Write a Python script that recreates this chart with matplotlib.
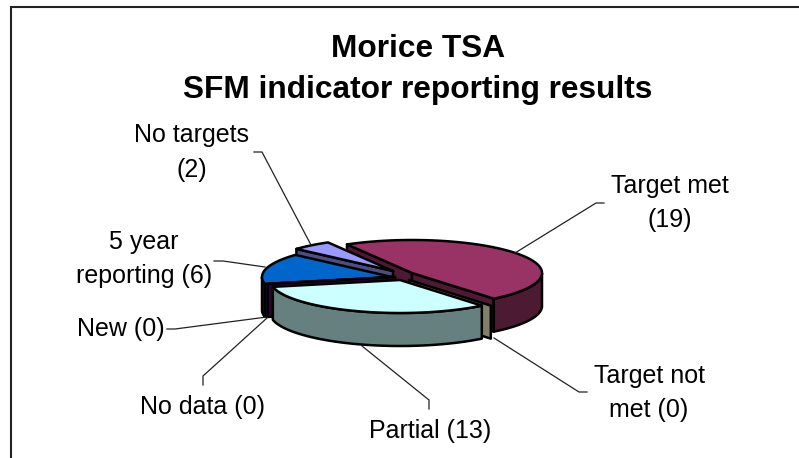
import numpy as np
import matplotlib
matplotlib.use('Agg')
import matplotlib.pyplot as plt
from matplotlib.patches import Polygon

plt.rcParams['font.family'] = ['Liberation Sans', 'DejaVu Sans']

# data, clockwise from the back of the pie
categories = ['Target met', 'Target not met', 'Partial', 'No data', 'New', '5 year reporting', 'No targets']
values = [19, 0, 13, 0, 0, 6, 2]
labels = ['Target met\n(19)', 'Target not\nmet (0)', 'Partial (13)', 'No data (0)', 'New (0)',
          '5 year\nreporting (6)', 'No targets\n(2)']
title_lines = ['Morice TSA', 'SFM indicator reporting results']

# styles
top_colors = ['#993366', '#FFFFCC', '#CCFFFF', '#660066', '#FF8080', '#0066CC', '#9999FF']
side_colors = ['#4D1A33', '#808066', '#668080', '#330033', '#804040', '#003366', '#4D4D80']
centers = [(412, 273), (409, 280), (400, 280), (395, 277), (395, 277), (392, 277), (393, 271)]
draw_order = [0, 6, 5, 4, 3, 1, 2]
label_pos = [(670, 193), (649, 383), (430, 438), (203, 414), (121, 336), (144, 249), (192, 142)]
leaders = [[(604, 203), (596, 203), (515, 253)],
           [(587, 392), (579, 392), (494, 338)],
           [(429, 409), (429, 400), (362, 346)],
           [(203, 385), (203, 376), (267, 318)],
           [(167, 329), (175, 329), (267, 317)],
           [(214, 261), (223, 261), (265, 267)],
           [(254, 152), (262, 152), (311, 245)]]
RX, RY, DEPTH = 130, 33, 33
START_ANGLE = 120
LW = 1.8


def rim(cx, cy, angles):
    t = np.radians(angles)
    return np.column_stack([cx + RX * np.cos(t), cy - RY * np.sin(t)])


def shape(ax, pts, color):
    ax.add_patch(Polygon(pts, closed=True, facecolor=color, edgecolor='black', linewidth=LW, joinstyle='round'))


def face(ax, cx, cy, angle, color):
    p = rim(cx, cy, [angle])[0]
    shape(ax, [(cx, cy), p, (p[0], p[1] + DEPTH), (cx, cy + DEPTH)], color)


fig = plt.figure(figsize=(7.99, 4.58), dpi=100)
ax = fig.add_axes([0, 0, 1, 1])
ax.set_xlim(0, 799)
ax.set_ylim(458, 0)
ax.axis('off')

# chart frame, only the top and left sides are in the picture
ax.plot([11, 11, 799], [458, 7, 7], color='#222222', linewidth=1.5, solid_joinstyle='miter')

# slice angles from the values
sweep = 360 * np.array(values) / sum(values)
ends = START_ANGLE - np.cumsum(sweep)
starts = ends + sweep

for i in draw_order:
    cx, cy = centers[i]
    a0, a1 = starts[i], ends[i]
    # cut faces turned to the viewer
    if np.cos(np.radians(a0)) < 0:
        face(ax, cx, cy, a0, side_colors[i])
    if np.cos(np.radians(a1)) > 0:
        face(ax, cx, cy, a1, side_colors[i])
    if values[i] == 0:
        continue
    # outer wall, front half of the rim only
    ang = np.linspace(a0, a1, 120)
    front = ang[np.sin(np.radians(ang)) < 0]
    if len(front) > 1:
        edge = rim(cx, cy, front)
        shape(ax, np.vstack([edge, edge[::-1] + [0, DEPTH]]), side_colors[i])
    # top
    shape(ax, np.vstack([[cx, cy], rim(cx, cy, ang)]), top_colors[i])

for path in leaders:
    xs, ys = zip(*path)
    ax.plot(xs, ys, color='#222222', linewidth=0.9)

for text, (x, y) in zip(labels, label_pos):
    parts = text.split('\n')
    for n, part in enumerate(parts):
        ax.text(x, y + n * 34.5, part, fontsize=18, ha='center', va='baseline', color='black')

ax.text(418, 57, title_lines[0], fontsize=22.8, fontweight='bold', ha='center', va='baseline')
ax.text(418, 98, title_lines[1], fontsize=22.8, fontweight='bold', ha='center', va='baseline')

fig.savefig('out.png', dpi=100)
